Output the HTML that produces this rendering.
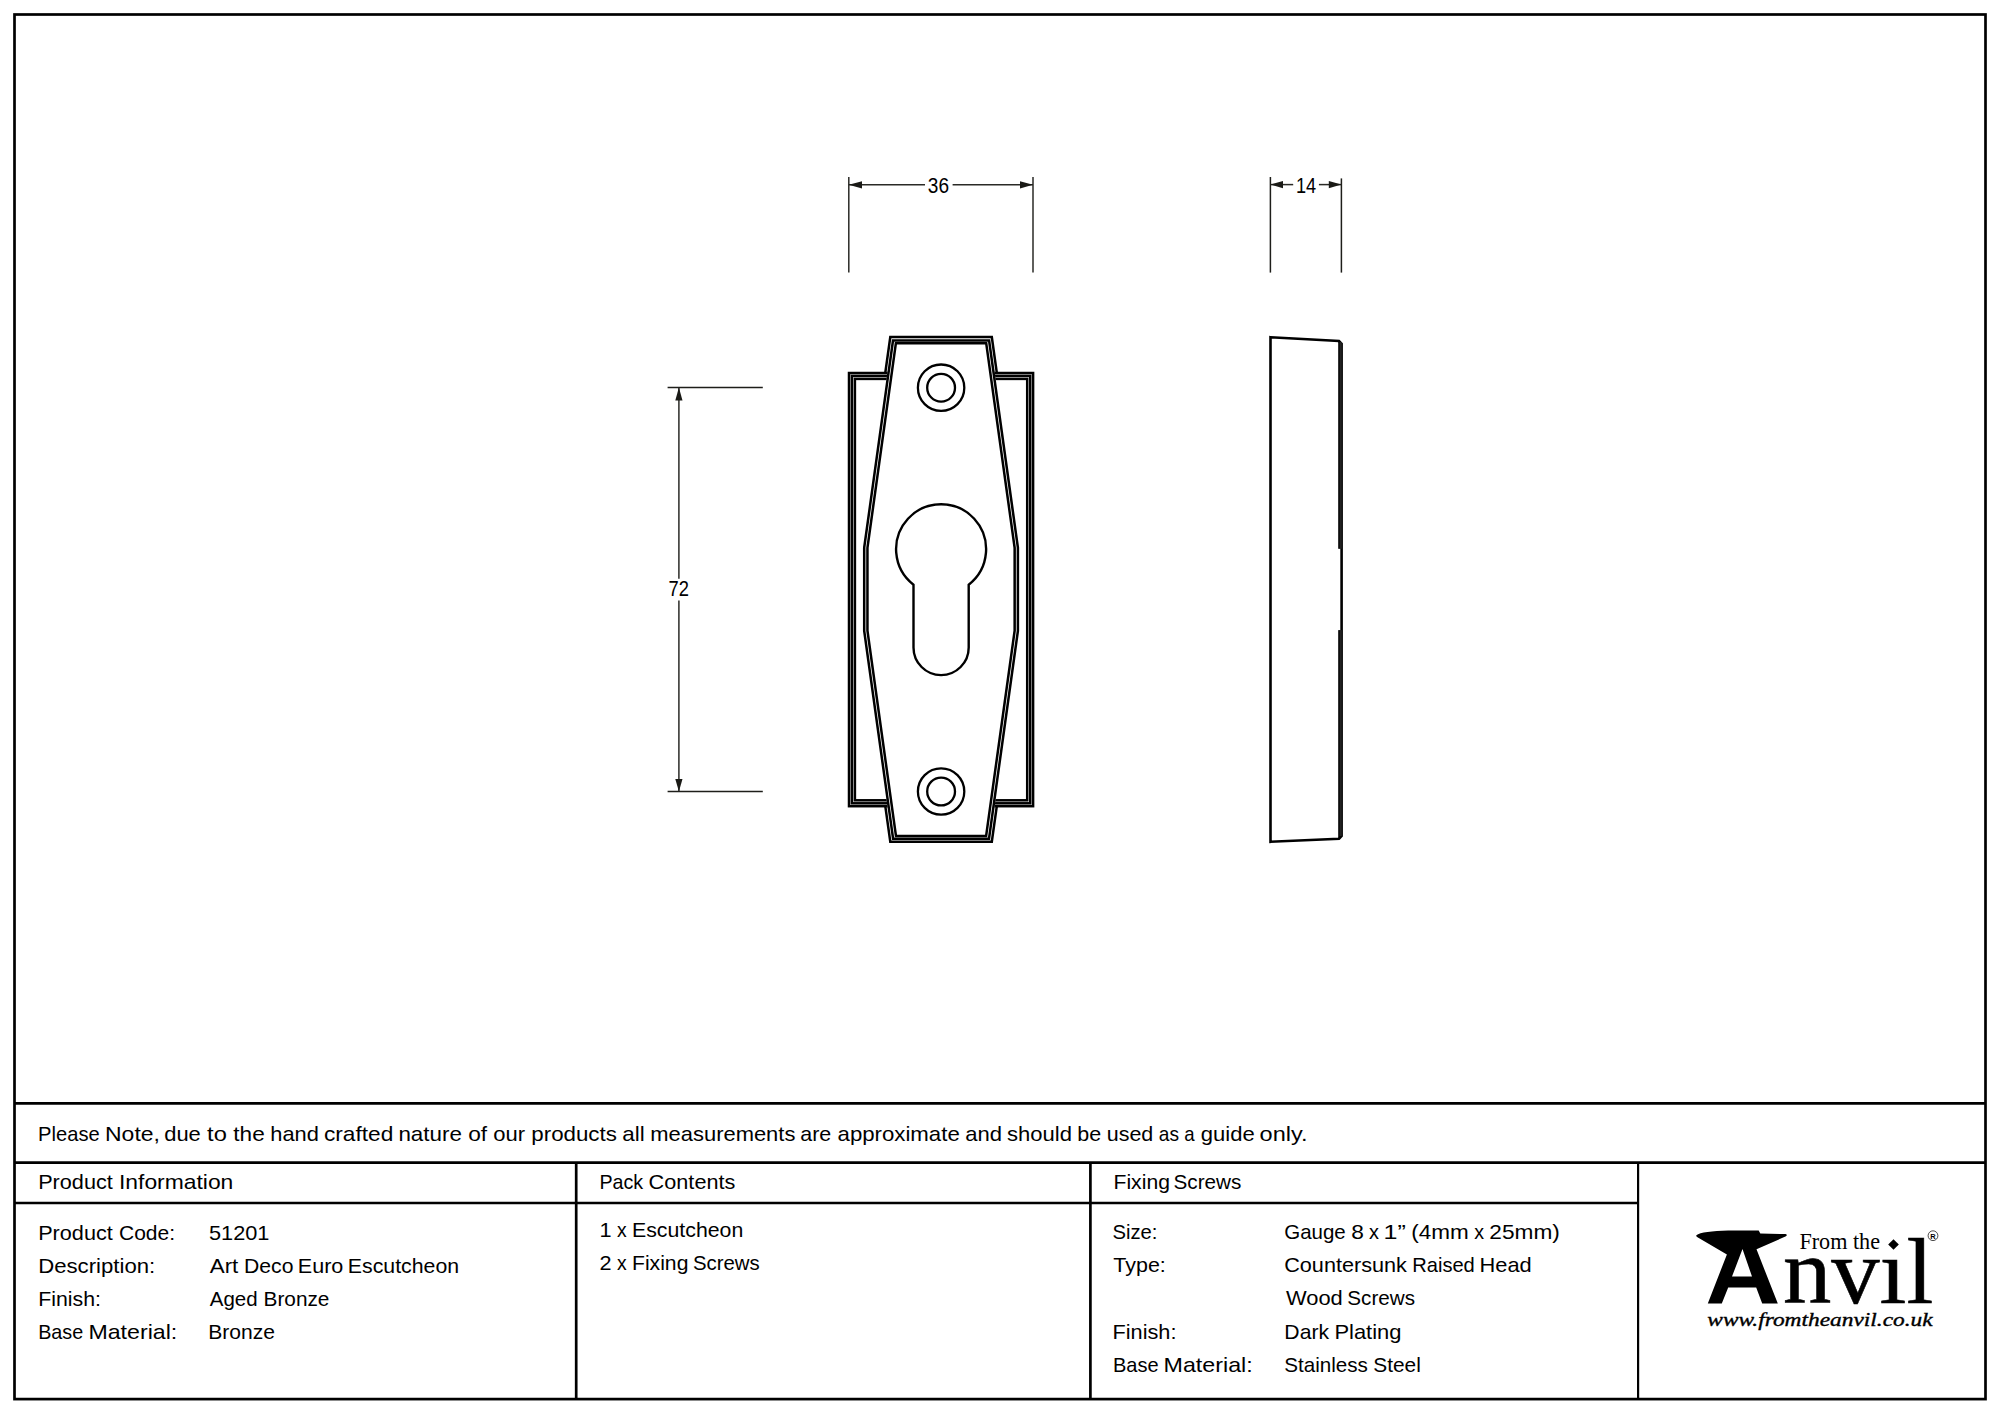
<!DOCTYPE html>
<html><head><meta charset="utf-8"><style>
html,body{margin:0;padding:0;background:#fff;width:2000px;height:1415px;overflow:hidden;}
svg{display:block;}
</style></head><body>
<svg width="2000" height="1415" viewBox="0 0 2000 1415">
<rect width="2000" height="1415" fill="#fff"/>
<g fill="#000">
<rect x="14.5" y="14.5" width="1971" height="1384.6" fill="none" stroke="#000" stroke-width="2.7"/>
<line x1="14.5" y1="1103.3" x2="1985.5" y2="1103.3" stroke="#000" stroke-width="2.7"/>
<line x1="14.5" y1="1162.6" x2="1985.5" y2="1162.6" stroke="#000" stroke-width="2.7"/>
<line x1="14.5" y1="1203" x2="1638.1" y2="1203" stroke="#000" stroke-width="2.7"/>
<line x1="576.2" y1="1162.6" x2="576.2" y2="1399.1" stroke="#000" stroke-width="2.7"/>
<line x1="1090.4" y1="1162.6" x2="1090.4" y2="1399.1" stroke="#000" stroke-width="2.7"/>
<line x1="1638.1" y1="1162.6" x2="1638.1" y2="1399.1" stroke="#000" stroke-width="2.2"/>
<text x="38.08" y="1140.8" font-family='"Liberation Sans", sans-serif' font-size="21" textLength="61.6" lengthAdjust="spacingAndGlyphs" >Please</text>
<text x="105.06" y="1140.8" font-family='"Liberation Sans", sans-serif' font-size="21" textLength="54.88" lengthAdjust="spacingAndGlyphs" >Note,</text>
<text x="164.2" y="1140.8" font-family='"Liberation Sans", sans-serif' font-size="21" textLength="36.6" lengthAdjust="spacingAndGlyphs" >due</text>
<text x="207.1" y="1140.8" font-family='"Liberation Sans", sans-serif' font-size="21" textLength="19.75" lengthAdjust="spacingAndGlyphs" >to</text>
<text x="233.34" y="1140.8" font-family='"Liberation Sans", sans-serif' font-size="21" textLength="31.41" lengthAdjust="spacingAndGlyphs" >the</text>
<text x="270.25" y="1140.8" font-family='"Liberation Sans", sans-serif' font-size="21" textLength="48.57" lengthAdjust="spacingAndGlyphs" >hand</text>
<text x="323.98" y="1140.8" font-family='"Liberation Sans", sans-serif' font-size="21" textLength="69.28" lengthAdjust="spacingAndGlyphs" >crafted</text>
<text x="398.4" y="1140.8" font-family='"Liberation Sans", sans-serif' font-size="21" textLength="63.45" lengthAdjust="spacingAndGlyphs" >nature</text>
<text x="468.15" y="1140.8" font-family='"Liberation Sans", sans-serif' font-size="21" textLength="18.95" lengthAdjust="spacingAndGlyphs" >of</text>
<text x="493.15" y="1140.8" font-family='"Liberation Sans", sans-serif' font-size="21" textLength="31.85" lengthAdjust="spacingAndGlyphs" >our</text>
<text x="531.3" y="1140.8" font-family='"Liberation Sans", sans-serif' font-size="21" textLength="85.55" lengthAdjust="spacingAndGlyphs" >products</text>
<text x="622.3" y="1140.8" font-family='"Liberation Sans", sans-serif' font-size="21" textLength="22.45" lengthAdjust="spacingAndGlyphs" >all</text>
<text x="650.3" y="1140.8" font-family='"Liberation Sans", sans-serif' font-size="21" textLength="145.06" lengthAdjust="spacingAndGlyphs" >measurements</text>
<text x="800.25" y="1140.8" font-family='"Liberation Sans", sans-serif' font-size="21" textLength="30.99" lengthAdjust="spacingAndGlyphs" >are</text>
<text x="837.54" y="1140.8" font-family='"Liberation Sans", sans-serif' font-size="21" textLength="122.21" lengthAdjust="spacingAndGlyphs" >approximate</text>
<text x="965.25" y="1140.8" font-family='"Liberation Sans", sans-serif' font-size="21" textLength="36.79" lengthAdjust="spacingAndGlyphs" >and</text>
<text x="1007.1" y="1140.8" font-family='"Liberation Sans", sans-serif' font-size="21" textLength="64.94" lengthAdjust="spacingAndGlyphs" >should</text>
<text x="1077.35" y="1140.8" font-family='"Liberation Sans", sans-serif' font-size="21" textLength="23.89" lengthAdjust="spacingAndGlyphs" >be</text>
<text x="1106.74" y="1140.8" font-family='"Liberation Sans", sans-serif' font-size="21" textLength="46.52" lengthAdjust="spacingAndGlyphs" >used</text>
<text x="1158.76" y="1140.8" font-family='"Liberation Sans", sans-serif' font-size="21" textLength="20.19" lengthAdjust="spacingAndGlyphs" >as</text>
<text x="1184.2" y="1140.8" font-family='"Liberation Sans", sans-serif' font-size="21" textLength="10.36" lengthAdjust="spacingAndGlyphs" >a</text>
<text x="1200.86" y="1140.8" font-family='"Liberation Sans", sans-serif' font-size="21" textLength="53.89" lengthAdjust="spacingAndGlyphs" >guide</text>
<text x="1259.64" y="1140.8" font-family='"Liberation Sans", sans-serif' font-size="21" textLength="47.96" lengthAdjust="spacingAndGlyphs" >only.</text>
<text x="38.18" y="1188.7" font-family='"Liberation Sans", sans-serif' font-size="21" textLength="74.6" lengthAdjust="spacingAndGlyphs" >Product</text>
<text x="118.96" y="1188.7" font-family='"Liberation Sans", sans-serif' font-size="21" textLength="114.4" lengthAdjust="spacingAndGlyphs" >Information</text>
<text x="599.4" y="1188.8" font-family='"Liberation Sans", sans-serif' font-size="21" textLength="43.72" lengthAdjust="spacingAndGlyphs" >Pack</text>
<text x="648.64" y="1188.8" font-family='"Liberation Sans", sans-serif' font-size="21" textLength="86.72" lengthAdjust="spacingAndGlyphs" >Contents</text>
<text x="1113.52" y="1188.8" font-family='"Liberation Sans", sans-serif' font-size="21" textLength="56.4" lengthAdjust="spacingAndGlyphs" >Fixing</text>
<text x="1173.52" y="1188.8" font-family='"Liberation Sans", sans-serif' font-size="21" textLength="67.84" lengthAdjust="spacingAndGlyphs" >Screws</text>
<text x="38.18" y="1239.7" font-family='"Liberation Sans", sans-serif' font-size="21" textLength="74.6" lengthAdjust="spacingAndGlyphs" >Product</text>
<text x="118.98" y="1239.7" font-family='"Liberation Sans", sans-serif' font-size="21" textLength="56.06" lengthAdjust="spacingAndGlyphs" >Code:</text>
<text x="38.18" y="1272.9" font-family='"Liberation Sans", sans-serif' font-size="21" textLength="117.1" lengthAdjust="spacingAndGlyphs" >Description:</text>
<text x="38.18" y="1305.7" font-family='"Liberation Sans", sans-serif' font-size="21" textLength="62.76" lengthAdjust="spacingAndGlyphs" >Finish:</text>
<text x="38.18" y="1338.5" font-family='"Liberation Sans", sans-serif' font-size="21" textLength="45.06" lengthAdjust="spacingAndGlyphs" >Base</text>
<text x="88.4" y="1338.5" font-family='"Liberation Sans", sans-serif' font-size="21" textLength="88.88" lengthAdjust="spacingAndGlyphs" >Material:</text>
<text x="208.98" y="1240" font-family='"Liberation Sans", sans-serif' font-size="21" textLength="60.5" lengthAdjust="spacingAndGlyphs" >51201</text>
<text x="209.78" y="1272.8" font-family='"Liberation Sans", sans-serif' font-size="21" textLength="28.56" lengthAdjust="spacingAndGlyphs" >Art</text>
<text x="244.06" y="1272.8" font-family='"Liberation Sans", sans-serif' font-size="21" textLength="49.4" lengthAdjust="spacingAndGlyphs" >Deco</text>
<text x="297.84" y="1272.8" font-family='"Liberation Sans", sans-serif' font-size="21" textLength="45.52" lengthAdjust="spacingAndGlyphs" >Euro</text>
<text x="347.84" y="1272.8" font-family='"Liberation Sans", sans-serif' font-size="21" textLength="111.3" lengthAdjust="spacingAndGlyphs" >Escutcheon</text>
<text x="209.78" y="1305.7" font-family='"Liberation Sans", sans-serif' font-size="21" textLength="47.8" lengthAdjust="spacingAndGlyphs" >Aged</text>
<text x="263.52" y="1305.7" font-family='"Liberation Sans", sans-serif' font-size="21" textLength="65.94" lengthAdjust="spacingAndGlyphs" >Bronze</text>
<text x="208.18" y="1338.5" font-family='"Liberation Sans", sans-serif' font-size="21" textLength="66.72" lengthAdjust="spacingAndGlyphs" >Bronze</text>
<text x="599.52" y="1236.8" font-family='"Liberation Sans", sans-serif' font-size="21" textLength="12.06" lengthAdjust="spacingAndGlyphs" >1</text>
<text x="617" y="1236.8" font-family='"Liberation Sans", sans-serif' font-size="21" textLength="9.66" lengthAdjust="spacingAndGlyphs" >x</text>
<text x="632.01" y="1236.8" font-family='"Liberation Sans", sans-serif' font-size="21" textLength="111.25" lengthAdjust="spacingAndGlyphs" >Escutcheon</text>
<text x="599.52" y="1269.9" font-family='"Liberation Sans", sans-serif' font-size="21" textLength="12.06" lengthAdjust="spacingAndGlyphs" >2</text>
<text x="617" y="1269.9" font-family='"Liberation Sans", sans-serif' font-size="21" textLength="9.66" lengthAdjust="spacingAndGlyphs" >x</text>
<text x="632.01" y="1269.9" font-family='"Liberation Sans", sans-serif' font-size="21" textLength="56.4" lengthAdjust="spacingAndGlyphs" >Fixing</text>
<text x="692.96" y="1269.9" font-family='"Liberation Sans", sans-serif' font-size="21" textLength="66.72" lengthAdjust="spacingAndGlyphs" >Screws</text>
<text x="1112.52" y="1238.8" font-family='"Liberation Sans", sans-serif' font-size="21" textLength="44.98" lengthAdjust="spacingAndGlyphs" >Size:</text>
<text x="1113.32" y="1271.9" font-family='"Liberation Sans", sans-serif' font-size="21" textLength="52.5" lengthAdjust="spacingAndGlyphs" >Type:</text>
<text x="1112.52" y="1338.6" font-family='"Liberation Sans", sans-serif' font-size="21" textLength="63.98" lengthAdjust="spacingAndGlyphs" >Finish:</text>
<text x="1112.96" y="1371.7" font-family='"Liberation Sans", sans-serif' font-size="21" textLength="45.62" lengthAdjust="spacingAndGlyphs" >Base</text>
<text x="1163.5" y="1371.7" font-family='"Liberation Sans", sans-serif' font-size="21" textLength="89.22" lengthAdjust="spacingAndGlyphs" >Material:</text>
<text x="1284.2" y="1238.5" font-family='"Liberation Sans", sans-serif' font-size="21" textLength="61.6" lengthAdjust="spacingAndGlyphs" >Gauge</text>
<text x="1351.15" y="1238.5" font-family='"Liberation Sans", sans-serif' font-size="21" textLength="12.65" lengthAdjust="spacingAndGlyphs" >8</text>
<text x="1369" y="1238.5" font-family='"Liberation Sans", sans-serif' font-size="21" textLength="9.95" lengthAdjust="spacingAndGlyphs" >x</text>
<text x="1383.5" y="1238.5" font-family='"Liberation Sans", sans-serif' font-size="21" textLength="22.3" lengthAdjust="spacingAndGlyphs" >1”</text>
<text x="1411.3" y="1238.5" font-family='"Liberation Sans", sans-serif' font-size="21" textLength="57.5" lengthAdjust="spacingAndGlyphs" >(4mm</text>
<text x="1474.15" y="1238.5" font-family='"Liberation Sans", sans-serif' font-size="21" textLength="9.8" lengthAdjust="spacingAndGlyphs" >x</text>
<text x="1489.3" y="1238.5" font-family='"Liberation Sans", sans-serif' font-size="21" textLength="70.52" lengthAdjust="spacingAndGlyphs" >25mm)</text>
<text x="1284.2" y="1271.5" font-family='"Liberation Sans", sans-serif' font-size="21" textLength="122.7" lengthAdjust="spacingAndGlyphs" >Countersunk</text>
<text x="1412.25" y="1271.5" font-family='"Liberation Sans", sans-serif' font-size="21" textLength="62.55" lengthAdjust="spacingAndGlyphs" >Raised</text>
<text x="1479.5" y="1271.5" font-family='"Liberation Sans", sans-serif' font-size="21" textLength="52.15" lengthAdjust="spacingAndGlyphs" >Head</text>
<text x="1285.95" y="1305.2" font-family='"Liberation Sans", sans-serif' font-size="21" textLength="56.85" lengthAdjust="spacingAndGlyphs" >Wood</text>
<text x="1347.35" y="1305.2" font-family='"Liberation Sans", sans-serif' font-size="21" textLength="67.67" lengthAdjust="spacingAndGlyphs" >Screws</text>
<text x="1284.35" y="1338.7" font-family='"Liberation Sans", sans-serif' font-size="21" textLength="44.7" lengthAdjust="spacingAndGlyphs" >Dark</text>
<text x="1334.4" y="1338.7" font-family='"Liberation Sans", sans-serif' font-size="21" textLength="67.08" lengthAdjust="spacingAndGlyphs" >Plating</text>
<text x="1284.2" y="1371.7" font-family='"Liberation Sans", sans-serif' font-size="21" textLength="83.7" lengthAdjust="spacingAndGlyphs" >Stainless</text>
<text x="1373.25" y="1371.7" font-family='"Liberation Sans", sans-serif' font-size="21" textLength="47.55" lengthAdjust="spacingAndGlyphs" >Steel</text>
<line x1="848.8" y1="177" x2="848.8" y2="272.6" stroke="#2a2a26" stroke-width="1.5"/>
<line x1="1033" y1="177" x2="1033" y2="272.6" stroke="#2a2a26" stroke-width="1.5"/>
<line x1="848.8" y1="184.8" x2="925" y2="184.8" stroke="#2a2a26" stroke-width="1.5"/>
<line x1="952.6" y1="184.8" x2="1033" y2="184.8" stroke="#2a2a26" stroke-width="1.5"/>
<polygon points="848.8,184.8 862,188.4 862,181.2" fill="#1a1a16"/>
<polygon points="1033,184.8 1020,181.2 1020,188.4" fill="#1a1a16"/>
<text x="927.8" y="193.2" font-family='"Liberation Sans", sans-serif' font-size="21.5" textLength="21.2" lengthAdjust="spacingAndGlyphs" >36</text>
<line x1="1270.4" y1="177" x2="1270.4" y2="272.6" stroke="#1e1e1a" stroke-width="1.5"/>
<line x1="1341.4" y1="178.4" x2="1341.4" y2="272.6" stroke="#1e1e1a" stroke-width="1.5"/>
<line x1="1270.4" y1="184.6" x2="1293.2" y2="184.6" stroke="#2a2a26" stroke-width="1.5"/>
<line x1="1318.9" y1="184.6" x2="1341.4" y2="184.6" stroke="#2a2a26" stroke-width="1.5"/>
<polygon points="1270.4,184.6 1283,188.2 1283,181" fill="#1a1a16"/>
<polygon points="1341.4,184.6 1328.8,181 1328.8,188.2" fill="#1a1a16"/>
<text x="1296" y="192.6" font-family='"Liberation Sans", sans-serif' font-size="21.5" textLength="20.2" lengthAdjust="spacingAndGlyphs" >14</text>
<line x1="667.6" y1="387.6" x2="762.8" y2="387.6" stroke="#1e1e1a" stroke-width="1.5"/>
<line x1="667.6" y1="791.6" x2="762.8" y2="791.6" stroke="#1e1e1a" stroke-width="1.5"/>
<line x1="678.9" y1="387.6" x2="678.9" y2="578.8" stroke="#2a2a26" stroke-width="1.5"/>
<line x1="678.9" y1="600.6" x2="678.9" y2="791.6" stroke="#2a2a26" stroke-width="1.5"/>
<polygon points="678.9,387.6 675.3,400.4 682.5,400.4" fill="#1a1a16"/>
<polygon points="678.9,791.6 682.5,779 675.3,779" fill="#1a1a16"/>
<text x="668.6" y="596" font-family='"Liberation Sans", sans-serif' font-size="21.5" textLength="20.4" lengthAdjust="spacingAndGlyphs" >72</text>
<rect x="849" y="373" width="184.1" height="433.2" fill="none" stroke="#000" stroke-width="2.5"/>
<rect x="851.9" y="375.9" width="178.3" height="427.4" fill="none" stroke="#000" stroke-width="2.5"/>
<rect x="854.9" y="378.9" width="172.3" height="421.4" fill="none" stroke="#000" stroke-width="2.5"/>
<polygon points="892.09,339.4 990.01,339.4 1018.95,547.6 1018.95,631 989.91,839.9 892.19,839.9 863.15,631 863.15,547.6" fill="#fff"/>
<polyline points="885.27,372.9 890.3,337.0 991.8,337.0 996.83,372.9" fill="none" stroke="#000" stroke-width="2.5" stroke-linejoin="miter"/>
<polyline points="885.33,806.3 890.3,841.8 991.8,841.8 996.77,806.3" fill="none" stroke="#000" stroke-width="2.5" stroke-linejoin="miter"/>
<polygon points="893,340.5 989.1,340.5 1017.9,547.7 1017.9,630.9 988.99,838.85 893.11,838.85 864.2,630.9 864.2,547.7" fill="none" stroke="#000" stroke-width="2.5" stroke-linejoin="miter"/>
<polygon points="895.9,343.2 986.2,343.2 1014.65,547.9 1014.65,630.7 986.1,836.1 896,836.1 867.45,630.7 867.45,547.9" fill="none" stroke="#000" stroke-width="2.5" stroke-linejoin="miter"/>
<circle cx="941.1" cy="387.7" r="23.2" fill="none" stroke="#000" stroke-width="2.3"/>
<circle cx="941.1" cy="387.7" r="13.9" fill="none" stroke="#000" stroke-width="2.3"/>
<circle cx="941.1" cy="791.5" r="23.2" fill="none" stroke="#000" stroke-width="2.3"/>
<circle cx="941.1" cy="791.5" r="13.9" fill="none" stroke="#000" stroke-width="2.3"/>
<path d="M913.5 584.74 A45.0 45.0 0 1 1 968.7 584.74 L968.7 647.5 A27.6 27.6 0 0 1 913.5 647.5 Z" fill="none" stroke="#000" stroke-width="2.4"/>
<path d="M1270.5 337.2 L1339 341 L1341.6 343.8 L1341.6 836 L1339 838.8 L1270.5 841.8 Z" fill="none" stroke="#000" stroke-width="2.6" stroke-linejoin="miter"/>
<line x1="1339.2" y1="341" x2="1339.2" y2="548.8" stroke="#000" stroke-width="2"/>
<line x1="1339.2" y1="630.1" x2="1339.2" y2="838.8" stroke="#000" stroke-width="2"/>
<rect x="1339.6" y="342" width="2.2" height="206.8" fill="#222"/>
<rect x="1339.6" y="630.1" width="2.2" height="206" fill="#222"/>
<path d="M1696.4 1235.3 C1700 1232.2 1712 1231 1728.2 1230.5 L1758.7 1230.5 L1760.3 1233.4 L1785.5 1234.1 C1787.5 1234.5 1787 1235.8 1785.4 1236.6 L1756.5 1249.3 L1777.8 1303.6 L1762.2 1303.6 L1756.2 1287.4 L1728.2 1287.4 L1721.8 1303.6 L1707.8 1303.6 L1726.9 1254.4 L1697.5 1237.2 C1696.2 1236.6 1696 1235.8 1696.4 1235.3 Z M1742.5 1248.9 L1732 1276.6 L1752 1276.6 Z" fill="#000" fill-rule="evenodd"/>
<text x="1799.4" y="1248.9" font-family='"Liberation Serif", serif' font-size="22.8" textLength="80.6" lengthAdjust="spacingAndGlyphs" >From the</text>
<polygon points="1893.5,1239.2 1898.8,1244.5 1893.5,1249.8 1888.2,1244.5" fill="#000"/>
<text x="1782.9" y="1302.9" font-family='"Liberation Serif", serif' font-size="94" textLength="150.4" lengthAdjust="spacingAndGlyphs" stroke="#000" stroke-width="0.6">nvıl</text>
<circle cx="1933" cy="1235.7" r="4.9" fill="none" stroke="#000" stroke-width="0.7"/>
<text x="1933" y="1238.6" font-family='"Liberation Sans", sans-serif' font-size="7.5" font-weight="bold" text-anchor="middle">R</text>
<text x="1707.3" y="1325.8" font-family='"Liberation Serif", serif' font-size="18.5" textLength="225.4" lengthAdjust="spacingAndGlyphs" font-style="italic" stroke="#000" stroke-width="0.35">www.fromtheanvil.co.uk</text>
</g>
</svg>
</body></html>
